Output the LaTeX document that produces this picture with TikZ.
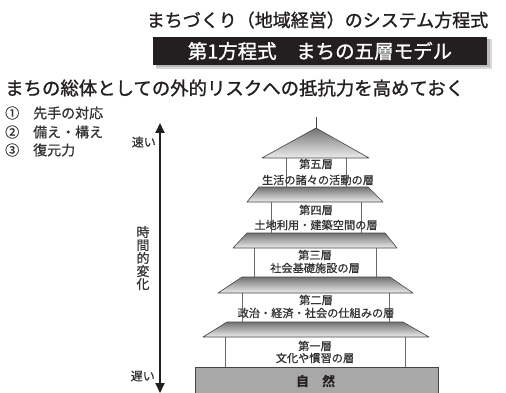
\documentclass[tikz,border=0pt]{standalone}
\usepackage{fontspec}
\setmainfont{Noto Sans CJK JP}
\newfontfamily\jpmed[FakeBold=1.2]{Noto Sans CJK JP}
\newfontfamily\jpsemi[FakeBold=0.8]{Noto Sans CJK JP}
\usetikzlibrary{arrows.meta}
\definecolor{ink}{HTML}{231F20}
\definecolor{txt}{HTML}{333333}
\definecolor{edge}{HTML}{444444}
\definecolor{wallc}{HTML}{6A6A6A}
\definecolor{groundc}{HTML}{A8A8A8}
\tikzset{
  lbl/.style={inner sep=0pt, text=txt, font=\jpsemi\fontsize{11.2}{11.2}\selectfont},
  roof/.style={draw=edge, line width=0.6pt, top color=gray!90!black, bottom color=gray!15, line join=round},
  wall/.style={draw=wallc, line width=0.9pt},
  side/.style={inner sep=0pt, text=txt, font=\jpsemi\fontsize{12}{12}\selectfont},
  item/.style={inner sep=0pt, anchor=west, text=txt, font=\jpsemi\fontsize{14}{14}\selectfont},
}
\begin{document}
\begin{tikzpicture}[x=1pt,y=-1pt]
\useasboundingbox (0,0) rectangle (506,393);
% title
\node[inner sep=0pt, text=ink, font=\jpmed\fontsize{18}{18}\selectfont] (title) at (317.5,20) {まちづくり（地域経営）のシステム方程式};
% black box with shadow
\fill[gray!30] (156,39) rectangle (492,69);
\fill[gray!55] (156,39) rectangle (490,67);
\node[fill=ink, minimum width=334pt, minimum height=28pt, inner sep=0pt, text=white, font=\jpmed\fontsize{19.5}{19.5}\selectfont] (box) at (320,51) {第1方程式　まちの五層モデル};
% subtitle
\node[inner sep=0pt, anchor=west, text=ink, font=\jpmed\fontsize{18.4}{18.4}\selectfont] (sub) at (5,88) {まちの総体としての外的リスクへの抵抗力を高めておく};
% list
\node[item] (i1) at (5,113) {①　先手の対応};
\node[item] (i2) at (5,132) {②　備え・構え};
\node[item] (i3) at (5,150) {③　復元力};
% time arrow
\coordinate (atop) at (160,123);
\coordinate (abot) at (160,393);
\draw[line width=1.8pt, ink, {Triangle[length=10pt,width=9pt]}-{Triangle[length=10pt,width=9pt]}] (atop) -- (abot);
\node[side, anchor=east] (fast) at (156,142) {速い};
\node[side, anchor=east] (slow) at (155,376) {遅い};
\node[inner sep=0pt, text=txt, align=center, font=\jpsemi\fontsize{13}{13}\selectfont] (change) at (143,258) {時\\間\\的\\変\\化};
% ground
\filldraw[fill=groundc, draw=edge, line width=0.9pt] (195,367) rectangle (438,396);
\node[inner sep=0pt, text=ink, font=\fontsize{13}{13}\selectfont\bfseries] (nature) at (315.5,381) {自　然};
% layer 1
\draw[wall] (225,337) -- (225,367) (405,337) -- (405,367);
\path[roof] (227,322) -- (403,322) -- (429,337) -- (203,337) -- cycle;
% layer 2
\draw[wall] (242,293) -- (242,322) (389,293) -- (389,322);
\path[roof] (242,277) -- (390,277) -- (413,293) -- (218,293) -- cycle;
% layer 3
\draw[wall] (254,248) -- (254,277) (376,248) -- (376,277);
\path[roof] (247,233) -- (385,233) -- (397,248) -- (233,248) -- cycle;
% layer 4
\draw[wall] (271,202) -- (271,233) (361,202) -- (361,233);
\path[roof] (259,187) -- (368,187) -- (383,202) -- (247,202) -- cycle;
% layer 5
\draw[wall] (286,158) -- (286,187) (346,158) -- (346,187);
\path[roof] (316,128) -- (369,158) -- (262,158) -- cycle;
\draw[edge, line width=0.9pt] (316,117) -- (316,128);
% labels
\node[lbl] (l5a) at (316,164) {第五層};
\node[lbl] (l5b) at (318,180) {生活の諸々の活動の層};
\node[lbl] (l4a) at (316,210) {第四層};
\node[lbl] (l4b) at (316,225) {土地利用・建築空間の層};
\node[lbl] (l3a) at (315,255) {第三層};
\node[lbl] (l3b) at (315,268) {社会基礎施設の層};
\node[lbl] (l2a) at (316,300) {第二層};
\node[lbl] (l2b) at (316,313) {政治・経済・社会の仕組みの層};
\node[lbl] (l1a) at (315,346) {第一層};
\node[lbl] (l1b) at (315,358) {文化や慣習の層};
\end{tikzpicture}
\end{document}
